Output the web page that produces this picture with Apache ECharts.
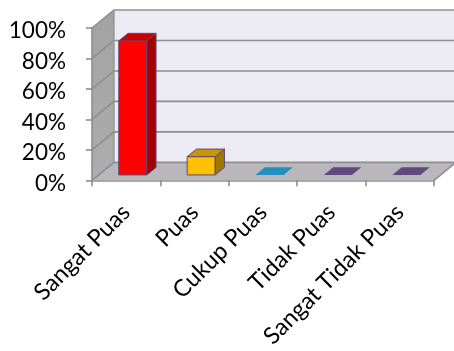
<!DOCTYPE html>
<html>
<head>
<meta charset="utf-8">
<script src="https://cdn.jsdelivr.net/npm/echarts@6/dist/echarts.min.js"></script>
<style>html,body{margin:0;padding:0;background:#fff;}#c{width:454px;height:351px;}</style>
</head>
<body>
<div id="c"></div>
<script>
const categories = ['Sangat Puas', 'Puas', 'Cukup Puas', 'Tidak Puas', 'Sangat Tidak Puas'];
const values = [88, 12, 0, 0, 0];
const yTicks = [0, 20, 40, 60, 80, 100];
const frontColors = ['#FF0000', '#FFC000', '#238EC2', '#5E4A7E', '#5E4A7E'];
const topColors = ['#C80000', '#C89600', '#238EC2', '#5E4A7E', '#5E4A7E'];
const sideColors = ['#A00000', '#A07800', '#1A6E96', '#4A3A64', '#4A3A64'];

const DX = 22, DY = -18;      // depth offset of back wall (px)
const F0 = 0.30, F1 = 0.72;   // bar depth span (fraction)
const BAR = 0.41;             // bar width fraction of category
const GRID = '#8E8E8E';

const chart = echarts.init(document.getElementById('c'), null, {renderer: 'canvas'});

function wallsRender(params, api) {
  const cs = params.coordSys;
  const x0 = cs.x, x1 = cs.x + cs.width, yT = cs.y, yB = cs.y + cs.height;
  const ch = [];
  ch.push({type: 'polygon', shape: {points: [[x0 + DX, yT + DY], [x1 + DX, yT + DY], [x1 + DX, yB + DY], [x0 + DX, yB + DY]]}, style: {fill: '#ECEAF2'}});
  ch.push({type: 'polygon', shape: {points: [[x0, yT], [x0 + DX, yT + DY], [x0 + DX, yB + DY], [x0, yB]]},
    style: {fill: new echarts.graphic.LinearGradient(0, 0, 0, 1, [{offset: 0, color: '#A2A2A2'}, {offset: 1, color: '#ADADAD'}])}});
  ch.push({type: 'polygon', shape: {points: [[x0, yB], [x1, yB], [x1 + DX, yB + DY], [x0 + DX, yB + DY]]}, style: {fill: '#B9B6BC'}});
  yTicks.forEach(function (v) {
    const y = api.coord([0, v])[1];
    ch.push({type: 'polyline', shape: {points: [[x0, y], [x0 + DX, y + DY], [x1 + DX, y + DY]]}, style: {stroke: GRID, lineWidth: 1.6, fill: null}});
  });
  ch.push({type: 'line', shape: {x1: x0 + DX, y1: yT + DY, x2: x0 + DX, y2: yB + DY}, style: {stroke: GRID, lineWidth: 1.2}});
  ch.push({type: 'line', shape: {x1: x1, y1: yB, x2: x1 + DX, y2: yB + DY}, style: {stroke: GRID, lineWidth: 1.6}});
  return {type: 'group', children: ch};
}

function barRender(params, api) {
  const i = api.value(0), v = api.value(1);
  const base = api.coord([i, 0]);
  const top = api.coord([i, v]);
  const hw = api.size([1, 0])[0] * BAR / 2;
  const cx = base[0];
  const xl = cx - hw, xr = cx + hw;
  const y0 = base[1], yv = top[1];
  const a = [DX * F0, DY * F0], b = [DX * F1, DY * F1];
  const stroke = '#5F497A';
  const ch = [];
  if (v > 0) {
    ch.push({type: 'polygon', shape: {points: [[xl + a[0], yv + a[1]], [xr + a[0], yv + a[1]], [xr + a[0], y0 + a[1]], [xl + a[0], y0 + a[1]]]},
      style: {fill: frontColors[params.dataIndex], stroke: stroke, lineWidth: 1}});
    ch.push({type: 'polygon', shape: {points: [[xr + a[0], yv + a[1]], [xr + b[0], yv + b[1]], [xr + b[0], y0 + b[1]], [xr + a[0], y0 + a[1]]]},
      style: {fill: sideColors[params.dataIndex], stroke: stroke, lineWidth: 1}});
  }
  ch.push({type: 'polygon', shape: {points: [[xl + a[0], yv + a[1]], [xr + a[0], yv + a[1]], [xr + b[0], yv + b[1]], [xl + b[0], yv + b[1]]]},
    style: {fill: topColors[params.dataIndex], stroke: v > 0 ? stroke : null, lineWidth: 1}});
  return {type: 'group', children: ch};
}

chart.setOption({
  animation: false,
  grid: {left: 92, right: 20, top: 28, bottom: 170, containLabel: false},
  xAxis: {
    type: 'category', data: categories, z: 5,
    axisLine: {show: true, lineStyle: {color: GRID, width: 1.6}},
    axisTick: {show: true, length: 6, lineStyle: {color: GRID, width: 1.6}},
    axisLabel: {rotate: 45, interval: 0, margin: 28, color: '#000', fontFamily: 'Lato', fontSize: 23.5}
  },
  yAxis: {
    type: 'value', min: 0, max: 100, interval: 20, z: 5,
    axisLine: {show: true, lineStyle: {color: GRID, width: 1.6}},
    axisTick: {show: true, length: 6, lineStyle: {color: GRID, width: 1.6}},
    splitLine: {show: false},
    axisLabel: {
      formatter: function (v) { return '{v|' + v + '%}'; },
      margin: 26,
      rich: {v: {color: '#000', fontFamily: 'Lato', fontSize: 22.5, padding: [6, 0, 0, 0]}}
    }
  },
  series: [
    {type: 'custom', z: 1, silent: true, clip: false, renderItem: wallsRender, data: [[0, 0]]},
    {type: 'custom', z: 10, silent: true, clip: false, renderItem: barRender,
      data: values.map(function (v, i) { return [i, v]; })}
  ]
});
</script>
</body>
</html>
